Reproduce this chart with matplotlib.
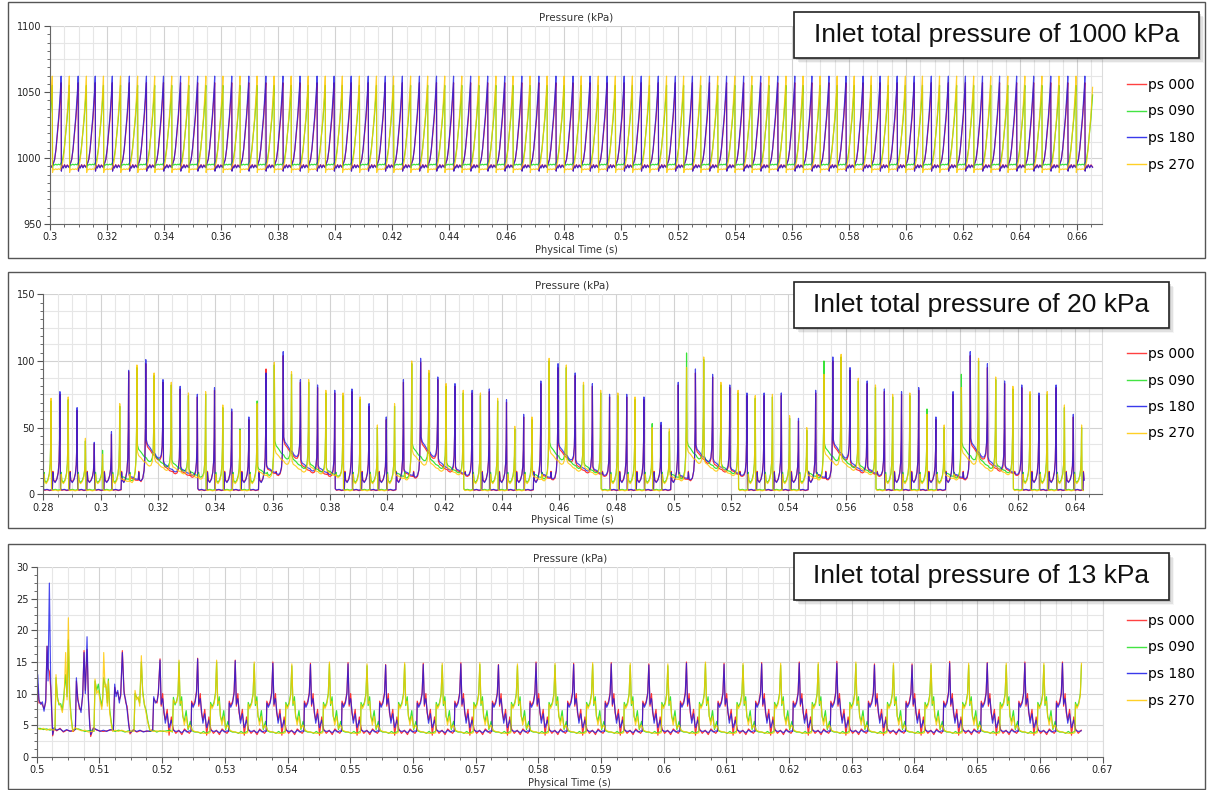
import numpy as np
import matplotlib.pyplot as plt
from matplotlib.lines import Line2D
from matplotlib.patches import Rectangle
from matplotlib.ticker import MultipleLocator, FormatStrFormatter

W, H = 1207, 790

# ------------------------
# Series names / colours
# ------------------------
SERIES = ["ps 000", "ps 090", "ps 180", "ps 270"]
COLORS = ["#ff1f1f", "#22e022", "#1717e8", "#ffc800"]
ALPHAS = [0.9, 0.9, 0.78, 0.82]

# ------------------------
# Panel 1: inlet total pressure 1000 kPa
# ------------------------
P1_PERIOD = 0.00598
P1_RB_FIRST_PEAK = 0.29792   # ps 000 / ps 180 spikes
P1_YG_FIRST_PEAK = 0.29482   # ps 090 / ps 270 spikes
P1_T_END = 0.6655
P1_PEAK = [1057.0, 1055.0, 1062.0, 1062.0]       # r, g, b, y
P1_BASE = [993.8, 995.0, 993.5, 991.5]

P1_PHASE = [0, 0.015, 0.05, 0.12, 0.2, 0.28, 0.36, 0.45, 0.55, 0.62, 0.7, 0.8, 0.87, 0.93, 0.97]
P1_ZERO = [0] * 15
P1_RAMP = [0, 0, 0, 0, 0, 0, 0, 0, 0.03, 0.08, 0.2, 0.42, 0.58, 0.75, 0.88]
P1_RB_WIGGLE = [0, -3.5, 0.8, -1.2, 1.2, -1.0, 1.0, -0.6, 0.5, 0, 0, 0, 0, 0, 0]
P1_YG_WIGGLE = [0, -2.5, 0.3, -0.4, 0.3, -0.3, 0.3, -0.2, 0.2, 0, 0, 0, 0, 0, 0]

# ------------------------
# Panel 2: inlet total pressure 20 kPa
# ------------------------
P2_PERIOD = 0.005993
P2_RB_FIRST_PEAK = 0.27981
P2_YG_FIRST_PEAK = 0.27671
P2_T_END = 0.6436

P2_B_PEAKS = [60, 77, 65, 39, 47, 93, 101, 86, 81, 75, 80, 64, 58, 91, 107, 86, 82, 78, 79, 68, 58,
              86, 102, 88, 83, 78, 79, 71, 60, 85, 98, 91, 83, 75, 75, 73, 54, 84, 94, 90, 82, 76, 76,
              76, 57, 78, 103, 95, 85, 79, 77, 80, 58, 77, 107, 98, 85, 82, 76, 82, 60]
P2_R_PEAKS = [58, 75, 63, 38, 45, 92, 98, 84, 79, 73, 78, 62, 56, 94, 104, 84, 80, 76, 77, 66, 56,
              84, 99, 86, 81, 76, 77, 69, 58, 83, 95, 89, 81, 73, 73, 71, 52, 82, 91, 88, 80, 74, 74,
              74, 55, 76, 100, 93, 83, 77, 75, 78, 56, 75, 104, 95, 83, 80, 74, 80, 58]
P2_Y_PEAKS = [55, 72, 73, 42, 30, 68, 97, 91, 84, 76, 77, 67, 48, 68, 99, 92, 86, 78, 76, 73, 52, 68,
              100, 93, 83, 78, 76, 72, 51, 58, 102, 97, 84, 78, 76, 73, 50, 49, 95, 103, 84, 78, 74,
              75, 59, 50, 90, 105, 87, 82, 75, 76, 60, 52, 80, 102, 88, 81, 77, 77, 67, 52]
P2_G_PEAKS = [53, 70, 71, 40, 33, 66, 95, 89, 82, 74, 75, 65, 49, 70, 97, 90, 84, 76, 74, 71, 50, 66,
              98, 91, 81, 76, 74, 70, 49, 56, 100, 95, 82, 76, 74, 71, 53, 47, 106, 101, 82, 76, 72,
              73, 57, 48, 100, 103, 85, 80, 73, 74, 64, 50, 90, 100, 86, 79, 75, 75, 65, 50]

# level reached right after a spike (only where it stays high, elsewhere baseline)
P2_B_TROUGH = {5: 14, 6: 40, 7: 24, 8: 20, 13: 21, 14: 42, 15: 25, 16: 21, 21: 18, 22: 42, 23: 26,
               24: 20, 29: 16, 30: 38, 31: 25, 32: 20, 37: 15, 38: 36, 39: 26, 40: 20, 45: 16,
               46: 40, 47: 25, 48: 20, 53: 16, 54: 41, 55: 27, 56: 21}
P2_R_TROUGH = {5: 13, 6: 38, 7: 22, 8: 18, 13: 20, 14: 40, 15: 23, 16: 19, 21: 17, 22: 40, 23: 24,
               24: 19, 29: 15, 30: 36, 31: 23, 32: 19, 37: 14, 38: 34, 39: 24, 40: 19, 45: 15,
               46: 38, 47: 23, 48: 19, 53: 15, 54: 39, 55: 25, 56: 20}
P2_Y_TROUGH = {5: 12, 6: 31, 7: 26, 8: 22, 9: 16, 13: 18, 14: 33, 15: 24, 16: 22, 17: 18, 21: 15,
               22: 32, 23: 25, 24: 21, 29: 14, 30: 33, 31: 25, 32: 21, 37: 14, 38: 34, 39: 25,
               40: 20, 45: 15, 46: 32, 47: 26, 48: 21, 53: 15, 54: 33, 55: 25, 56: 21}
P2_G_TROUGH = {5: 14, 6: 36, 7: 30, 8: 25, 9: 18, 13: 20, 14: 39, 15: 28, 16: 24, 17: 19, 21: 17,
               22: 37, 23: 28, 24: 23, 29: 16, 30: 38, 31: 28, 32: 23, 37: 16, 38: 39, 39: 28,
               40: 22, 45: 17, 46: 37, 47: 29, 48: 23, 53: 17, 54: 38, 55: 28, 56: 23}
P2_BASE = [3.0, 3.3, 3.3, 2.8]
P2_SHELF = [11.5, 11.0, 11.0, 10.0]

P2_PHASE = [0, 0.03, 0.1, 0.25, 0.4, 0.56, 0.59, 0.63, 0.72, 0.82, 0.9, 0.95, 0.98]
P2_DECAY = [1, 1, 0.93, 0.85, 0.78, 0.72, 0.7, 0.68, 0.65, 0.62, 0.6, 0.6, 0.6]
P2_SHELF_MULT = [0, 0, 0, 0, 0, 0, 1.5, 0.95, 0.8, 0.9, 1.05, 1.15, 1.15]
P2_RAMP = [0, 0, 0, 0, 0, 0, 0, 0, 0, 0.02, 0.07, 0.18, 0.45]
P2_WIGGLE = [0, 1.0, 0, 0.4, -0.2, 0.3, 0, 0, 0, 0, 0, 0, 0]

# ------------------------
# Panel 3: inlet total pressure 13 kPa
# ------------------------
P3_T0 = 0.5
P3_T_END = 0.6667
P3_PERIOD = 0.005997
P3_RB_FIRST_PEAK = 0.51967
P3_YG_FIRST_PEAK = 0.5227

# irregular start-up, time in ms after 0.5 s
P3_B_EARLY_MS = [0, 0.16, 0.37, 0.64, 0.90, 1.17, 1.44, 1.65, 1.81, 2.02, 2.23, 2.39, 2.55, 2.76, 3.19,
                 3.72, 4.25, 4.78, 5.32, 5.85, 6.17, 6.33, 6.54, 6.80, 7.07, 7.34, 7.55, 7.76, 8.03,
                 8.24, 8.45, 8.61, 9.04, 9.57, 10.10, 10.63, 11.16, 11.70, 12.23, 12.44, 12.65, 12.92,
                 13.18, 13.40, 13.66, 13.93, 14.19, 14.41, 14.67, 14.88, 15.42, 15.95, 16.48, 17.01,
                 17.54, 18.07, 18.50, 18.66, 18.93, 19.19, 19.40]
P3_B_EARLY = [11, 13, 9, 8.3, 8.7, 7.2, 9, 17.5, 12, 27.5, 12, 7, 3.5, 4.6, 4.2, 4.4, 4.0, 4.3, 4.0,
              4.2, 4.3, 12.5, 9, 8, 7, 10, 16.5, 10, 19, 9, 5, 3.5, 4.5, 4.3, 4.0, 4.2, 4.0, 4.3, 4.2,
              11.5, 9.5, 10.5, 8.5, 10, 16.5, 10, 9, 7.5, 5, 3.8, 4.2, 4.0, 4.2, 3.9, 4.1, 4.0, 4.2,
              9.5, 8.5, 8.8, 10]
P3_R_EARLY = [11.5, 11.5, 8.5, 8.6, 8.2, 7.6, 8.6, 17.5, 14, 13.5, 11, 7.5, 3.3, 4.4, 4.1, 4.5, 3.9,
              4.2, 4.1, 4.0, 4.4, 12, 9.5, 7.6, 7.4, 9.6, 16.8, 10.5, 17, 9.5, 5.5, 3.2, 4.6, 4.2,
              4.1, 4.0, 4.1, 4.2, 4.3, 11, 10, 10.2, 9, 9.6, 16.8, 10.5, 8.6, 8, 5.4, 3.6, 4.3, 3.9,
              4.1, 4.0, 4.0, 4.1, 4.3, 9.2, 8.8, 8.5, 10.2]
P3_Y_EARLY_MS = [0, 0.53, 1.06, 1.59, 2.13, 2.66, 2.92, 3.08, 3.30, 3.56, 3.83, 4.09, 4.36, 4.62, 4.84,
                 5.05, 5.26, 5.48, 5.74, 6.11, 6.65, 7.18, 7.71, 8.24, 8.77, 9.14, 9.30, 9.57, 9.83,
                 10.10, 10.37, 10.53, 10.69, 10.90, 11.06, 11.27, 11.43, 11.64, 11.91, 12.12, 12.49,
                 13.02, 13.56, 14.09, 14.62, 15.15, 15.52, 15.68, 15.95, 16.21, 16.43, 16.69, 16.90,
                 17.17, 17.44, 17.70, 18.07, 18.61, 19.14, 19.67, 20.20, 20.73, 21.26, 21.64, 21.80,
                 22.06, 22.33, 22.54]
P3_Y_EARLY = [4.6, 4.3, 4.5, 4.2, 4.4, 4.2, 4.5, 13, 9, 8.5, 8, 7, 9, 16.5, 9, 22, 9, 6, 4, 4.6, 4.3,
              4.1, 4.2, 3.9, 4.0, 4.1, 12.3, 10, 10.5, 9, 7.5, 9, 16.5, 11, 11.5, 8, 12, 7, 5, 4, 4.2,
              4.0, 4.2, 4.0, 3.9, 4.1, 4.0, 10.5, 9, 9.5, 8, 16, 10, 8.5, 7, 5.5, 4.2, 4.0, 4.1, 4.0,
              4.1, 3.9, 4.0, 4.0, 9, 8.5, 8.6, 10]
P3_G_EARLY = [4.4, 4.5, 4.3, 4.4, 4.2, 4.4, 4.3, 12.5, 9.5, 8.2, 8.4, 7.4, 10, 13, 9.5, 18.5, 9.5, 6.5,
              4.2, 4.4, 4.4, 4.2, 4.0, 4.1, 4.2, 4.0, 12, 10.5, 11.5, 9.5, 8, 9.5, 12.5, 11.5, 11,
              8.5, 12.3, 7.5, 5.4, 4.2, 4.0, 4.2, 4.1, 3.9, 4.1, 4.0, 4.2, 10, 9.4, 9.2, 8.5, 15,
              10.5, 8.2, 7.4, 5.8, 4.0, 4.2, 3.9, 4.1, 4.0, 4.1, 4.2, 3.9, 9.4, 8.2, 8.9, 9.8]

P3_B_PEAKS = [15.3, 15.5, 15.2, 14.8, 14.6, 14.7, 14.5, 14.6, 14.7, 14.5, 14.8, 14.6, 14.7, 14.5,
              14.8, 14.6, 14.7, 14.8, 14.8, 14.5, 14.5, 14.8, 14.8, 14.8, 14.8]
P3_R_PEAKS = [15.5, 15.6, 15.3, 15.0, 14.8, 14.9, 14.6, 14.8, 14.9, 14.6, 15.0, 14.8, 14.9, 14.7,
              15.0, 14.8, 14.9, 15.0, 15.1, 14.7, 14.7, 15.1, 14.9, 15.0, 15.0]
P3_Y_PEAKS = [15.3, 15.3, 15.0, 14.7, 15.0, 14.7, 14.9, 14.8, 14.9, 14.7, 14.8, 14.9, 14.8, 14.7,
              15.0, 14.8, 14.8, 14.9, 15.0, 14.8, 14.8, 14.8, 14.8, 14.8, 14.8]
P3_G_PEAKS = [15.0, 15.0, 14.7, 14.4, 14.7, 14.4, 14.6, 14.5, 14.6, 14.4, 14.5, 14.6, 14.5, 14.4,
              14.7, 14.5, 14.5, 14.6, 14.7, 14.5, 14.5, 14.5, 14.5, 14.5, 14.5]
P3_BASE = [4.0, 3.9, 4.0, 3.8]
P3_SHELF = [8.8, 8.6, 8.5, 8.3]

P3_PHASE = [0, 0.03, 0.07, 0.10, 0.14, 0.19, 0.24, 0.30, 0.35, 0.42, 0.50, 0.58, 0.65, 0.72, 0.78,
            0.825, 0.84, 0.88, 0.93, 0.97]
P3_ZERO = [0] * 20
P3_SHELF_MULT = [0] * 16 + [1.0, 0.92, 1.0, 1.0]
P3_RAMP = [0] * 19 + [0.23]
P3_R_WIGGLE = [0, 4.0, 6.0, 3.0, 1.8, 3.5, -0.6, 2.3, 0.4, -0.3, 0.2, -0.5, 0.4, 0.0, -0.3, 0.1, 0, 0, 0, 0]
P3_G_WIGGLE = [0, 4.2, 5.6, 2.5, 1.7, 3.4, 0.4, 1.7, 0.2, 0.0, 0.0, -0.2, 0.1, -0.2, 0.0, 0.1, 0, 0, 0, 0]
P3_B_WIGGLE = [0, 4.3, 5.2, 3.5, 1.3, 2.8, 0.6, 1.8, 0.2, 0.0, 0.1, -0.2, 0.2, -0.1, 0.1, 0.0, 0, 0, 0, 0]
P3_Y_WIGGLE = [0, 4.6, 5.0, 2.8, 1.2, 2.6, 0.7, 1.2, 0.4, 0.2, 0.1, 0.0, -0.1, -0.1, -0.1, 0.0, 0, 0, 0, 0]


def fx(px):
    return px / W


def fy(py):
    return 1 - py / H


def pulse_train(first_peak, period, heights, base, shelf, shape, troughs=None, t_end=None):
    """Spike train: one spike per entry in heights, cycle shape from the shape arrays."""
    phase, decay, shelf_mult, ramp, wiggle = [np.asarray(a, float) for a in shape]
    ts, vs = [], []
    n = len(heights)
    for k in range(n):
        h = heights[k]
        h_next = heights[k + 1] if k + 1 < n else h
        d = troughs.get(k, base) if troughs else base
        floor = base + (d - base) * decay + wiggle
        v = np.maximum(floor, shelf * shelf_mult)
        v = v + ramp * (h_next - v)
        v[0] = h
        ts.append(first_peak + period * (k + phase))
        vs.append(v)
    t = np.concatenate(ts)
    v = np.concatenate(vs)
    if t_end is not None:
        keep = t <= t_end
        t, v = t[keep], v[keep]
    return t, v


def panel1_data():
    out = []
    for i in range(4):
        rb = i in (0, 2)
        first = P1_RB_FIRST_PEAK if rb else P1_YG_FIRST_PEAK
        n = int(np.ceil((P1_T_END - first) / P1_PERIOD)) + 1
        heights = [P1_PEAK[i]] * n
        shape = (P1_PHASE, P1_ZERO, P1_ZERO, P1_RAMP, P1_RB_WIGGLE if rb else P1_YG_WIGGLE)
        out.append(pulse_train(first, P1_PERIOD, heights, P1_BASE[i], 0.0, shape, t_end=P1_T_END))
    return out


def panel2_data():
    peaks = [P2_R_PEAKS, P2_G_PEAKS, P2_B_PEAKS, P2_Y_PEAKS]
    troughs = [P2_R_TROUGH, P2_G_TROUGH, P2_B_TROUGH, P2_Y_TROUGH]
    shape = (P2_PHASE, P2_DECAY, P2_SHELF_MULT, P2_RAMP, P2_WIGGLE)
    out = []
    for i in range(4):
        first = P2_RB_FIRST_PEAK if i in (0, 2) else P2_YG_FIRST_PEAK
        out.append(pulse_train(first, P2_PERIOD, peaks[i], P2_BASE[i], P2_SHELF[i], shape,
                               troughs=troughs[i], t_end=P2_T_END))
    return out


def panel3_data():
    early_ms = [P3_B_EARLY_MS, P3_Y_EARLY_MS, P3_B_EARLY_MS, P3_Y_EARLY_MS]
    early = [P3_R_EARLY, P3_G_EARLY, P3_B_EARLY, P3_Y_EARLY]
    peaks = [P3_R_PEAKS, P3_G_PEAKS, P3_B_PEAKS, P3_Y_PEAKS]
    wiggles = [P3_R_WIGGLE, P3_G_WIGGLE, P3_B_WIGGLE, P3_Y_WIGGLE]
    out = []
    for i in range(4):
        first = P3_RB_FIRST_PEAK if i in (0, 2) else P3_YG_FIRST_PEAK
        shape = (P3_PHASE, P3_ZERO, P3_SHELF_MULT, P3_RAMP, wiggles[i])
        t, v = pulse_train(first, P3_PERIOD, peaks[i], P3_BASE[i], P3_SHELF[i], shape, t_end=P3_T_END)
        t0 = P3_T0 + np.asarray(early_ms[i]) / 1000.0
        out.append((np.concatenate([t0, t]), np.concatenate([np.asarray(early[i], float), v])))
    return out


def draw_panel(fig, rect_px, frame_px, xlim, ylim, xmajor, xgrid, ymajor, ygrid,
               series, label, box_px, legend_top):
    left, top, right, bottom = rect_px
    ax = fig.add_axes([fx(left), fy(bottom), (right - left) / W, (bottom - top) / H])

    for (t, v), name, c, a in zip(series, SERIES, COLORS, ALPHAS):
        ax.plot(t, v, color=c, lw=0.85, alpha=a, label=name)

    ax.set_xlim(*xlim)
    ax.set_ylim(*ylim)
    ax.xaxis.set_major_locator(MultipleLocator(xmajor))
    ax.xaxis.set_minor_locator(MultipleLocator(xgrid))
    ax.yaxis.set_major_locator(MultipleLocator(ymajor))
    ax.yaxis.set_minor_locator(MultipleLocator(ygrid / 2))
    ax.xaxis.set_major_formatter(FormatStrFormatter('%g'))
    ax.yaxis.set_major_formatter(FormatStrFormatter('%g'))
    ax.tick_params(which='both', direction='out', colors='#555', labelcolor='#222',
                   labelsize=7, pad=2)
    ax.tick_params(which='major', length=4, width=0.8)
    ax.tick_params(which='minor', length=2.5, width=0.6)
    ax.set_axisbelow(True)
    ax.grid(which='major', axis='x', color='#d2d2d2', lw=0.8)
    ax.grid(which='minor', axis='x', color='#e6e6e6', lw=0.8)
    for yv in np.arange(ylim[0], ylim[1] + 1e-9, ygrid):
        major = abs(yv / ymajor - round(yv / ymajor)) < 1e-6
        ax.axhline(yv, color='#d2d2d2' if major else '#e6e6e6', lw=0.8, zorder=0)
    ax.spines['top'].set_visible(False)
    ax.spines['right'].set_color('#dcdcdc')
    ax.spines['left'].set_color('#666')
    ax.spines['bottom'].set_color('#666')

    ax.set_title("Pressure (kPa)", fontsize=7.5, color='#333', pad=4)
    ax.set_xlabel("Physical Time (s)", fontsize=7, color='#333', labelpad=2)

    handles = [Line2D([], [], color=c, lw=1.0, alpha=0.85) for c in COLORS]
    ax.legend(handles, SERIES, loc='upper left', bbox_to_anchor=(fx(1127), fy(legend_top)),
              bbox_transform=fig.transFigure, frameon=False, fontsize=10, handlelength=1.4,
              handletextpad=0.1, labelspacing=0.9, borderaxespad=0, borderpad=0)

    # outer frame of the panel
    fl, ft, fr, fb = frame_px
    fig.add_artist(Rectangle((fx(fl), fy(fb)), (fr - fl) / W, (fb - ft) / H,
                             transform=fig.transFigure, fill=False, edgecolor='#555',
                             lw=1.0, zorder=5))

    # annotation box with soft shadow
    bl, bt, br, bb = box_px
    for off, a in ((5, 0.06), (3.5, 0.12), (2, 0.2)):
        fig.add_artist(Rectangle((fx(bl + off), fy(bb + off)), (br - bl) / W, (bb - bt) / H,
                                 transform=fig.transFigure, facecolor='#555', edgecolor='none',
                                 alpha=a, zorder=9))
    fig.add_artist(Rectangle((fx(bl), fy(bb)), (br - bl) / W, (bb - bt) / H,
                             transform=fig.transFigure, facecolor='white', edgecolor='#222',
                             lw=1.2, zorder=10))
    fig.text(fx((bl + br) / 2), fy((bt + bb) / 2), label, ha='center', va='center',
             fontsize=19, family='Liberation Sans', color='#111', zorder=11)
    return ax


def main():
    fig = plt.figure(figsize=(W / 100, H / 100), dpi=100)

    draw_panel(fig, (50, 26, 1102, 224), (8, 2, 1205, 258), (0.3, 0.6687), (950, 1100),
               0.02, 0.005, 50, 12.5, panel1_data(),
               "Inlet total pressure of 1000 kPa", (794, 12, 1199, 58), 78)

    draw_panel(fig, (43.3, 294.3, 1101.7, 494.3), (8, 272, 1205, 528), (0.28, 0.6493), (0, 150),
               0.02, 0.005, 50, 12.5, panel2_data(),
               "Inlet total pressure of 20 kPa", (794, 282, 1169, 328), 347)

    draw_panel(fig, (36.7, 567.3, 1102.6, 756.7), (8, 544, 1205, 789), (0.5, 0.67), (0, 30),
               0.01, 0.0025, 5, 2.5, panel3_data(),
               "Inlet total pressure of 13 kPa", (794, 553, 1169, 600), 614)

    fig.savefig("out.png", dpi=100)


if __name__ == "__main__":
    main()
